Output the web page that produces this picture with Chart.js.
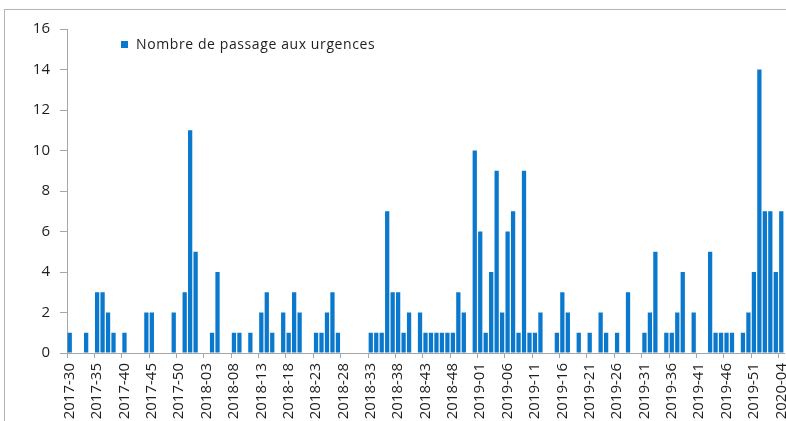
<!DOCTYPE html>
<html>
<head>
<meta charset="utf-8">
<script src="https://cdn.jsdelivr.net/npm/chart.js@4.4.1/dist/chart.umd.min.js"></script>
<style>
  html, body { margin: 0; padding: 0; background: #fff; }
  #wrap { position: relative; width: 786px; height: 421px; overflow: hidden; }
  #frame { position: absolute; left: 4px; top: 9px; width: 900px; height: 500px; border: 1px solid #b4b4b4; }
  canvas { position: absolute; left: 0; top: 0; }
</style>
</head>
<body>
<div id="wrap">
  <div id="frame"></div>
  <canvas id="myChart" width="786" height="421"></canvas>
</div>
<script>
// semaines 2017-30 .. 2020-04
const weekRanges = [
  [2017, 30, 52],
  [2018, 1, 52],
  [2019, 1, 52],
  [2020, 1, 4]
]

const categories = []
weekRanges.forEach(([year, from, to]) => {
  for (let w = from; w <= to; w++) {
    categories.push(year + '-' + String(w).padStart(2, '0'))
  }
})

const passages = [
  1, 0, 0, 1, 0, 3, 3, 2, 1, 0,
  1, 0, 0, 0, 2, 2, 0, 0, 0, 2,
  0, 3, 11, 5, 0, 0, 1, 4, 0, 0,
  1, 1, 0, 1, 0, 2, 3, 1, 0, 2,
  1, 3, 2, 0, 0, 1, 1, 2, 3, 1,
  0, 0, 0, 0, 0, 1, 1, 1, 7, 3,
  3, 1, 2, 0, 2, 1, 1, 1, 1, 1,
  1, 3, 2, 0, 10, 6, 1, 4, 9, 2,
  6, 7, 1, 9, 1, 1, 2, 0, 0, 1,
  3, 2, 0, 1, 0, 1, 0, 2, 1, 0,
  1, 0, 3, 0, 0, 1, 2, 5, 0, 1,
  1, 2, 4, 0, 2, 0, 0, 5, 1, 1,
  1, 1, 0, 1, 2, 4, 14, 7, 7, 4,
  7
]

const yTicks = [0, 2, 4, 6, 8, 10, 12, 14, 16]

const seriesLabel = 'Nombre de passage aux urgences'
const barColor = '#0a79cd'
const axisColor = '#a6a6a6'
const textColor = '#1e1e1e'
const fontFamily = '"Open Sans", "Noto Sans", sans-serif'

// legende dessinee dans la zone du graphique, comme dans Excel
const insideLegend = {
  id: 'insideLegend',
  afterDraw(chart) {
    const ctx = chart.ctx
    const ds = chart.data.datasets[0]
    ctx.save()
    ctx.fillStyle = ds.backgroundColor
    ctx.fillRect(121, 41, 7, 7)
    ctx.fillStyle = textColor
    ctx.font = '14px ' + fontFamily
    ctx.letterSpacing = '0.6px'
    ctx.textBaseline = 'middle'
    ctx.fillText(ds.label, 136, 45)
    ctx.restore()
  }
}

const ctx = document.getElementById('myChart').getContext('2d')

new Chart(ctx, {
  type: 'bar',
  data: {
    labels: categories,
    datasets: [{
      label: seriesLabel,
      data: passages,
      backgroundColor: barColor,
      borderWidth: 0,
      categoryPercentage: 1,
      barPercentage: 0.78
    }]
  },
  options: {
    responsive: false,
    animation: false,
    layout: { padding: { top: 29, right: 2, left: 0, bottom: 0 } },
    plugins: {
      legend: { display: false },
      tooltip: { enabled: false }
    },
    scales: {
      x: {
        offset: true,
        grid: {
          offset: true,
          drawOnChartArea: false,
          tickLength: 5,
          color: (c) => (c.index % 5 === 0 ? axisColor : 'rgba(0,0,0,0)')
        },
        border: { color: axisColor },
        ticks: {
          autoSkip: false,
          maxRotation: 90,
          minRotation: 90,
          padding: 5,
          color: textColor,
          font: { family: fontFamily, size: 15 },
          callback: (val, i) => (i % 5 === 0 ? categories[i] : '')
        },
        afterFit: (scale) => {
          scale.height = 68
          scale.paddingLeft = 0
          scale.paddingRight = 0
        }
      },
      y: {
        min: 0,
        max: 16,
        afterBuildTicks: (scale) => {
          scale.ticks = yTicks.map((v) => ({ value: v }))
        },
        grid: {
          drawOnChartArea: false,
          tickLength: 7,
          color: axisColor
        },
        border: { color: axisColor },
        ticks: {
          padding: 10,
          color: textColor,
          font: { family: fontFamily, size: 15 }
        },
        afterFit: (scale) => {
          scale.width = 67
        }
      }
    }
  },
  plugins: [insideLegend]
})
</script>
</body>
</html>
